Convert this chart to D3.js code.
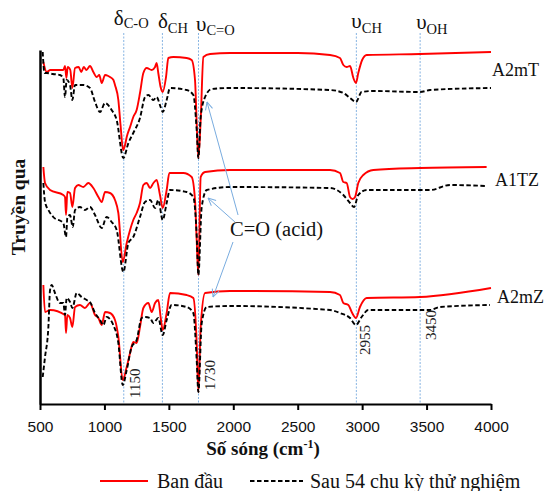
<!DOCTYPE html>
<html>
<head>
<meta charset="utf-8">
<script src="https://cdn.jsdelivr.net/npm/d3@7"></script>
<style>
  body { margin: 0; background: #fff; }
  svg { display: block; }
</style>
</head>
<body>
<script>
// FTIR spectra, x = wavenumber (cm-1), y = transmittance (a.u., samples stacked)
const wavenumberTicks = [500, 1000, 1500, 2000, 2500, 3000, 3500, 4000]
const samples = ['A2mT', 'A1TZ', 'A2mZ']
const seriesNames = ['Ban đầu', 'Sau 54 chu kỳ thử nghiệm']
const peakWavenumbers = [1150, 1450, 1730, 2955, 3450]
const peakSymbols = ['δ', 'δ', 'υ', 'υ', 'υ']
const peakSubscripts = ['C-O', 'CH', 'C=O', 'CH', 'OH']
const peakValueTags = [1150, 1730, 2955, 3450]
const acidLabel = 'C=O (acid)'
const acidArrowTips = [[1796, 302], [1804, 206], [1843, 107]]
const acidArrowTails = [[2037, 189], [2013, 182], [1998, 162]]

const a2mTInitial = [[526, 342], [552, 332], [580, 334], [681, 334], [694, 338], [705, 326], [715, 337], [735, 334], [751, 316], [772, 336], [800, 337], [820, 332], [840, 337], [860, 334], [888, 338], [914, 332], [940, 327], [960, 329], [979, 321], [1005, 329], [1030, 328], [1043, 327], [1070, 324], [1082, 319], [1108, 304], [1125, 279], [1145, 254], [1160, 259], [1173, 267], [1199, 277], [1224, 287], [1250, 294], [1276, 311], [1302, 331], [1328, 336], [1367, 334], [1393, 337], [1405, 341], [1418, 331], [1436, 317], [1452, 312], [1478, 327], [1496, 346], [1535, 347], [1638, 346], [1677, 344], [1703, 324], [1716, 281], [1729, 246], [1747, 284], [1768, 347], [1820, 350], [1975, 351], [2500, 351], [2751, 349], [2828, 346], [2854, 339], [2880, 337], [2906, 338], [2932, 326], [2952, 321], [2970, 331], [3000, 344], [3035, 349], [3450, 350], [4000, 352]]
const a2mTAfter = [[521, 352], [535, 331], [552, 331], [600, 330], [655, 329], [681, 326], [694, 307], [707, 324], [733, 319], [751, 304], [772, 319], [836, 319], [888, 316], [927, 302], [966, 292], [1005, 301], [1056, 294], [1095, 284], [1147, 246], [1186, 261], [1224, 271], [1276, 286], [1315, 307], [1341, 309], [1380, 304], [1405, 307], [1436, 297], [1452, 292], [1483, 304], [1509, 316], [1638, 314], [1690, 309], [1716, 274], [1729, 246], [1747, 287], [1781, 307], [1832, 315], [1975, 316], [2751, 314], [2854, 311], [2906, 306], [2952, 302], [2996, 312], [3087, 313], [3450, 312], [3527, 314], [4000, 316]]
const a1TZInitial = [[526, 237], [539, 221], [578, 214], [681, 209], [694, 207], [702, 189], [712, 212], [733, 211], [751, 197], [772, 216], [797, 219], [836, 217], [875, 221], [914, 216], [953, 207], [979, 202], [1005, 212], [1043, 211], [1082, 204], [1108, 191], [1142, 142], [1173, 161], [1199, 174], [1224, 184], [1250, 191], [1276, 201], [1302, 219], [1328, 221], [1354, 216], [1380, 221], [1405, 224], [1431, 209], [1452, 196], [1483, 214], [1504, 231], [1612, 231], [1677, 227], [1703, 204], [1716, 164], [1729, 129], [1747, 227], [1781, 232], [1975, 234], [2751, 234], [2828, 231], [2854, 222], [2880, 221], [2906, 207], [2926, 205], [2945, 207], [2970, 221], [3009, 229], [3087, 234], [3450, 236], [3966, 237]]
const a1TZAfter = [[526, 221], [539, 202], [565, 194], [603, 187], [681, 181], [702, 167], [712, 186], [733, 189], [754, 177], [772, 194], [810, 197], [849, 194], [888, 197], [927, 189], [979, 176], [1017, 187], [1056, 182], [1095, 174], [1147, 132], [1186, 161], [1224, 167], [1276, 187], [1315, 202], [1354, 204], [1393, 196], [1418, 204], [1452, 184], [1483, 201], [1509, 214], [1638, 212], [1690, 207], [1716, 169], [1729, 129], [1755, 197], [1794, 214], [1975, 217], [2751, 216], [2854, 209], [2906, 201], [2937, 197], [2970, 209], [3035, 214], [3527, 214], [3682, 219], [3966, 218]]
const a2mZInitial = [[526, 119], [539, 92], [578, 94], [694, 89], [702, 71], [712, 89], [733, 86], [751, 77], [772, 97], [810, 99], [849, 96], [888, 101], [927, 89], [953, 86], [979, 79], [1005, 92], [1043, 91], [1082, 84], [1108, 67], [1142, 24], [1173, 37], [1199, 51], [1224, 62], [1250, 61], [1276, 77], [1302, 96], [1341, 101], [1367, 92], [1393, 101], [1418, 104], [1437, 86], [1452, 74], [1483, 91], [1509, 111], [1638, 109], [1690, 106], [1716, 61], [1729, 12], [1747, 77], [1781, 111], [1975, 113], [2751, 112], [2828, 109], [2854, 101], [2893, 99], [2919, 92], [2952, 86], [2983, 97], [3035, 106], [3449, 107], [4000, 116]]
const a2mZAfter = [[521, 27], [539, 47], [565, 77], [578, 114], [591, 119], [616, 111], [655, 101], [681, 101], [694, 89], [707, 106], [733, 102], [751, 96], [785, 111], [823, 107], [862, 104], [888, 102], [927, 91], [966, 84], [992, 79], [1017, 87], [1069, 79], [1108, 61], [1142, 19], [1173, 34], [1211, 57], [1250, 64], [1289, 86], [1315, 87], [1354, 86], [1380, 81], [1418, 86], [1452, 69], [1483, 84], [1522, 99], [1638, 97], [1690, 91], [1716, 44], [1729, 12], [1755, 81], [1794, 97], [1975, 98], [2751, 94], [2828, 91], [2906, 86], [2952, 79], [2996, 87], [3048, 94], [3527, 94], [3604, 97], [3992, 99]]

const spectra = [
  [a2mTInitial, a2mTAfter],
  [a1TZInitial, a1TZAfter],
  [a2mZInitial, a2mZAfter]
]

const width = 549
const height = 491
const plot = {left: 40, right: 491, top: 50, bottom: 404, lineTop: 33}
const serif = '"Liberation Serif", "Times New Roman", serif'
const sans = '"Liberation Sans", Arial, sans-serif'
const seriesStyles = [
  {color: '#ff0000', dash: null},
  {color: '#000000', dash: '4.5,2.5'}
]
const guideColor = '#79acdf'

const xScale = d3.scaleLinear().domain([500, 4000]).range([plot.left, plot.right])
const yScale = d3.scaleLinear().domain([0, 354]).range([plot.bottom, plot.top])

const svg = d3.select('body').append('svg')
  .attr('width', width)
  .attr('height', height)

const defs = svg.append('defs')
defs.append('marker')
  .attr('id', 'open-arrow')
  .attr('viewBox', '0 0 10 10')
  .attr('refX', 9.5)
  .attr('refY', 5)
  .attr('markerWidth', 9)
  .attr('markerHeight', 9)
  .attr('markerUnits', 'userSpaceOnUse')
  .attr('orient', 'auto')
  .append('path')
  .attr('d', 'M1,1 L9.5,5 L1,9')
  .attr('fill', 'none')
  .attr('stroke', guideColor)
  .attr('stroke-width', 1.1)

// vertical guide lines at the main bands
svg.append('g').selectAll('line')
  .data(peakWavenumbers)
  .enter().append('line')
  .attr('x1', d => xScale(d))
  .attr('x2', d => xScale(d))
  .attr('y1', plot.lineTop)
  .attr('y2', plot.bottom)
  .attr('stroke', guideColor)
  .attr('stroke-width', 0.9)
  .attr('stroke-dasharray', '2,1.5')

// band labels on top
const symbolLayout = [
  {dx: -10, y: 25, sub: 3},
  {dx: -4.5, y: 28, sub: 5},
  {dx: -2.5, y: 31, sub: 4},
  {dx: -5, y: 28, sub: 5},
  {dx: -4, y: 29, sub: 5}
]
peakWavenumbers.forEach((wn, i) => {
  const layout = symbolLayout[i]
  const text = svg.append('text')
    .attr('x', xScale(wn) + layout.dx)
    .attr('y', layout.y)
    .attr('font-family', serif)
    .attr('fill', '#111')
  text.append('tspan').attr('font-size', 21).text(peakSymbols[i])
  text.append('tspan').attr('font-size', 14.5).attr('dy', layout.sub).text(peakSubscripts[i])
})

// spectra
const line = d3.line()
  .x(d => xScale(d[0]))
  .y(d => yScale(d[1]))
  .curve(d3.curveMonotoneX)

spectra.forEach(pair => {
  pair.forEach((data, j) => {
    svg.append('path')
      .datum(data)
      .attr('fill', 'none')
      .attr('stroke', seriesStyles[j].color)
      .attr('stroke-width', 1.9)
      .attr('stroke-dasharray', seriesStyles[j].dash)
      .attr('stroke-linejoin', 'round')
      .attr('d', line)
  })
})

// sample names at the right end, between the two curves
const nameShift = [0, 3, 5]
samples.forEach((name, i) => {
  const ends = spectra[i].map(data => yScale(data[data.length - 1][1]))
  svg.append('text')
    .attr('x', xScale(4000) + 1 + nameShift[i])
    .attr('y', (ends[0] + ends[1]) / 2 + 6 + (i === 1 ? 3 : 0))
    .attr('font-family', serif)
    .attr('font-size', 18)
    .attr('fill', '#111')
    .text(name)
})

// peak position numbers, rotated
const tagLayout = [{dx: 16, t: 6}, {dx: 16.5, t: 14}, {dx: 13.7, t: 49}, {dx: 16, t: 64}]
peakValueTags.forEach((wn, i) => {
  const x = xScale(wn) + tagLayout[i].dx
  const y = yScale(tagLayout[i].t)
  svg.append('text')
    .attr('transform', 'translate(' + x + ',' + y + ') rotate(-90)')
    .attr('font-family', serif)
    .attr('font-size', 15)
    .attr('fill', '#222')
    .text(wn)
})

// C=O (acid) arrows
acidArrowTips.forEach((tip, i) => {
  const tail = acidArrowTails[i]
  svg.append('line')
    .attr('x1', xScale(tail[0]))
    .attr('y1', yScale(tail[1]))
    .attr('x2', xScale(tip[0]))
    .attr('y2', yScale(tip[1]))
    .attr('stroke', guideColor)
    .attr('stroke-width', 1)
    .attr('marker-end', 'url(#open-arrow)')
})
svg.append('text')
  .attr('x', xScale(1975))
  .attr('y', yScale(168))
  .attr('font-family', serif)
  .attr('font-size', 20.5)
  .attr('fill', '#111')
  .text(acidLabel)

// axes
const xAxis = svg.append('g')
  .attr('transform', 'translate(0,' + plot.bottom + ')')
  .call(d3.axisBottom(xScale).tickValues(wavenumberTicks).tickFormat(d3.format('d'))
    .tickSize(6).tickSizeOuter(0).tickPadding(11))
xAxis.select('.domain').attr('stroke', '#000').attr('stroke-width', 2)
xAxis.selectAll('.tick line').attr('stroke', '#000').attr('stroke-width', 2)
xAxis.selectAll('.tick text')
  .attr('font-family', sans)
  .attr('font-size', 15.5)
  .attr('fill', '#111')

const yAxis = svg.append('g')
  .attr('transform', 'translate(' + plot.left + ',0)')
  .call(d3.axisLeft(yScale).tickValues([]).tickSizeOuter(0))
yAxis.select('.domain').attr('stroke', '#000').attr('stroke-width', 2.5)

// axis titles
const xTitle = svg.append('text')
  .attr('x', 263)
  .attr('y', 455)
  .attr('text-anchor', 'middle')
  .attr('font-family', serif)
  .attr('font-size', 19)
  .attr('font-weight', 'bold')
  .attr('fill', '#111')
xTitle.append('tspan').text('Số sóng (cm')
xTitle.append('tspan').attr('font-size', 12).attr('dy', -7).text('-1')
xTitle.append('tspan').attr('dy', 7).text(')')

svg.append('text')
  .attr('transform', 'translate(25,' + yScale(197) + ') rotate(-90)')
  .attr('text-anchor', 'middle')
  .attr('font-family', serif)
  .attr('font-size', 19.5)
  .attr('font-weight', 'bold')
  .attr('fill', '#111')
  .text('Truyền qua')

// legend
const legendY = 481
const legendItems = [{x1: 100, x2: 148, tx: 157}, {x1: 250, x2: 303, tx: 310}]
seriesNames.forEach((name, j) => {
  const item = legendItems[j]
  svg.append('line')
    .attr('x1', item.x1)
    .attr('x2', item.x2)
    .attr('y1', legendY)
    .attr('y2', legendY)
    .attr('stroke', seriesStyles[j].color)
    .attr('stroke-width', 1.9)
    .attr('stroke-dasharray', seriesStyles[j].dash)
  svg.append('text')
    .attr('x', item.tx)
    .attr('y', legendY + 6.5)
    .attr('font-family', serif)
    .attr('font-size', 20)
    .attr('fill', '#111')
    .text(name)
})
</script>
</body>
</html>
